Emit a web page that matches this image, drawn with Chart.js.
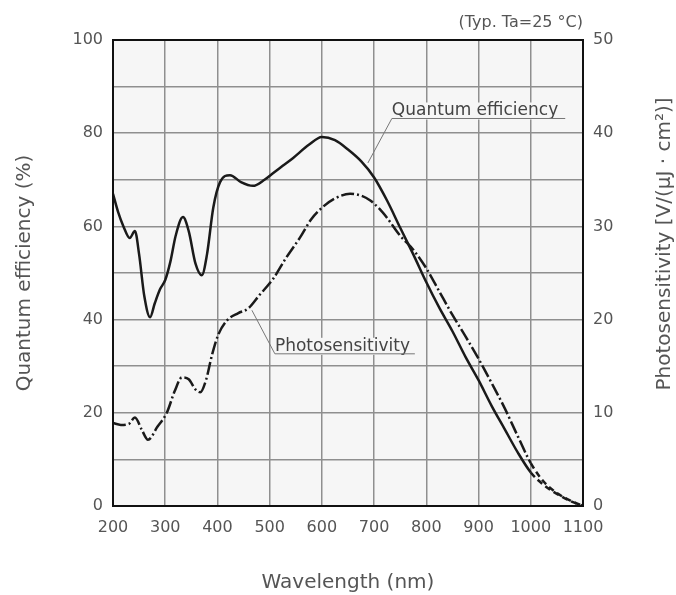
<!DOCTYPE html>
<html>
<head>
<meta charset="utf-8">
<script src="https://cdn.jsdelivr.net/npm/chart.js@4/dist/chart.umd.min.js"></script>
<style>
  body { margin: 0; background: #fff; }
  #chart { display: block; }
</style>
</head>
<body>
<canvas id="chart" width="676" height="595"></canvas>
<script>
// quantum efficiency (%) vs wavelength (nm)
const qeWavelength = [200, 210, 220, 232, 242, 250, 260, 271, 280, 290, 300, 310, 320, 334, 345, 358, 370, 380, 392, 405, 424, 445, 468, 490, 505, 525, 545, 575, 600, 625, 650, 675, 700, 725, 750, 775, 800, 825, 850, 875, 900, 925, 950, 975, 1000, 1025, 1050, 1075, 1100];
const qeValues = [67, 63, 60, 57.5, 59, 54, 45, 40.5, 43.5, 46.5, 48.5, 52.5, 58, 62, 59, 52, 49.5, 54, 64, 69.5, 71, 69.5, 68.7, 70, 71.3, 73, 74.7, 77.5, 79.2, 78.5, 76.5, 74, 70.5, 65.5, 59.7, 54, 48, 42.5, 37.5, 32, 27, 21.5, 16.5, 11.5, 7.2, 4.5, 2.6, 1.1, 0];

// photosensitivity [V/(uJ cm2)] vs wavelength (nm)
const psWavelength = [200, 215, 230, 242, 255, 267, 285, 303, 318, 332, 345, 358, 367, 378, 390, 401, 418, 440, 459, 480, 507, 530, 558, 580, 600, 625, 654, 675, 692, 710, 725, 750, 775, 800, 825, 850, 875, 900, 925, 950, 975, 1000, 1025, 1050, 1075, 1100];
const psValues = [8.9, 8.7, 8.8, 9.5, 8.2, 7.1, 8.5, 10, 12.3, 13.8, 13.6, 12.5, 12.2, 13.5, 16.3, 18.3, 19.9, 20.7, 21.2, 22.6, 24.4, 26.5, 28.8, 30.8, 32, 33, 33.5, 33.3, 32.8, 31.9, 30.9, 29, 27.5, 25.5, 23, 20.5, 18.2, 15.8, 13.2, 10.5, 7.5, 4.6, 2.6, 1.4, 0.6, 0];

const xTicks = [200, 300, 400, 500, 600, 700, 800, 900, 1000, 1100];
const qeTickLabels = [0, 20, 40, 60, 80, 100];
const psTickLabels = [0, 10, 20, 30, 40, 50];

const FONT = 'DejaVu Sans';
const TEXT = '#555';
const PLOT_BG = '#f6f6f6';

// dashed tail after 1000 nm (extrapolated part)
const tailDash = ctx => ctx.p0.parsed.x >= 1000 ? [6, 4] : undefined;

const chartDeco = {
    id: 'chartDeco',
    beforeDraw(chart) {
        const { ctx, chartArea: a } = chart;
        ctx.save();
        ctx.fillStyle = PLOT_BG;
        ctx.fillRect(a.left, a.top, a.right - a.left, a.bottom - a.top);
        ctx.restore();
    },
    afterDatasetsDraw(chart) {
        const { ctx, chartArea: a } = chart;
        const x = chart.scales.x, y = chart.scales.y;
        const px = v => x.getPixelForValue(v), py = v => y.getPixelForValue(v);

        function label(text, nm, pct, underEnd, tipNm, tipPct) {
            ctx.font = '17px ' + FONT;
            const lx = px(nm), ly = py(pct);
            ctx.fillStyle = PLOT_BG;
            ctx.fillRect(lx - 2, ly - 13, px(underEnd) - lx + 4, 17);
            ctx.fillStyle = '#444';
            ctx.textAlign = 'left';
            ctx.textBaseline = 'alphabetic';
            ctx.fillText(text, lx, ly);
            ctx.strokeStyle = '#777';
            ctx.lineWidth = 1;
            ctx.beginPath();
            ctx.moveTo(px(underEnd), ly + 3);
            ctx.lineTo(lx, ly + 3);
            ctx.lineTo(px(tipNm), py(tipPct));
            ctx.stroke();
        }

        ctx.save();
        label('Quantum efficiency', 734, 83.8, 1066, 688, 73.6);
        label('Photosensitivity', 510, 33.3, 778, 466, 42);

        // frame
        ctx.strokeStyle = '#111';
        ctx.lineWidth = 2;
        ctx.strokeRect(a.left, a.top, a.right - a.left, a.bottom - a.top);

        // note top right
        ctx.fillStyle = TEXT;
        ctx.font = '16px ' + FONT;
        ctx.textAlign = 'right';
        ctx.textBaseline = 'middle';
        ctx.fillText('(Typ. Ta=25 °C)', a.right, 23);

        // right axis title, reading bottom to top
        ctx.translate(665, 244);
        ctx.rotate(-Math.PI / 2);
        ctx.textAlign = 'center';
        ctx.font = '20px ' + FONT;
        ctx.fillText('Photosensitivity [V/(μJ · cm²)]', 0, 0);
        ctx.restore();
    }
};

new Chart(document.getElementById('chart'), {
    type: 'line',
    data: {
        datasets: [{
            label: 'Quantum efficiency',
            data: qeWavelength.map((w, i) => ({ x: w, y: qeValues[i] })),
            yAxisID: 'y',
            borderColor: '#1a1a1a',
            borderWidth: 2.5,
            pointRadius: 0,
            cubicInterpolationMode: 'monotone',
            segment: { borderDash: tailDash }
        }, {
            label: 'Photosensitivity',
            data: psWavelength.map((w, i) => ({ x: w, y: psValues[i] })),
            yAxisID: 'y1',
            borderColor: '#1a1a1a',
            borderWidth: 2.5,
            borderDash: [13, 3, 2, 3],
            pointRadius: 0,
            cubicInterpolationMode: 'monotone',
            segment: { borderDash: tailDash }
        }]
    },
    options: {
        responsive: false,
        animation: false,
        devicePixelRatio: 1,
        layout: { padding: { top: 40 } },
        plugins: { legend: { display: false }, tooltip: { enabled: false } },
        scales: {
            x: {
                type: 'linear',
                min: 200, max: 1100,
                afterBuildTicks: s => { s.ticks = xTicks.map(v => ({ value: v })); },
                afterFit: s => { s.height = 89; },
                ticks: {
                    color: TEXT, font: { family: FONT, size: 16 }, padding: 12, maxRotation: 0, autoSkip: false,
                    callback: v => String(v)
                },
                grid: { color: '#8f8f8f', lineWidth: 1.5, drawTicks: false },
                border: { display: false },
                title: { display: true, text: 'Wavelength (nm)', color: TEXT, font: { family: FONT, size: 20 }, padding: { top: 0, bottom: 0 } }
            },
            y: {
                position: 'left',
                min: 0, max: 100,
                ticks: {
                    stepSize: 10, autoSkip: false, padding: 10,
                    color: TEXT, font: { family: FONT, size: 16 },
                    callback: v => qeTickLabels.includes(v) ? String(v) : ''
                },
                afterFit: s => { s.width = 113; },
                grid: { color: '#8f8f8f', lineWidth: 1.5, drawTicks: false },
                border: { display: false },
                title: { display: true, text: 'Quantum efficiency (%)', color: TEXT, font: { family: FONT, size: 20 }, padding: { top: 13, bottom: 0 } }
            },
            y1: {
                position: 'right',
                min: 0, max: 50,
                ticks: {
                    stepSize: 5, autoSkip: false, padding: 10,
                    color: TEXT, font: { family: FONT, size: 16 },
                    callback: v => psTickLabels.includes(v) ? String(v) : ''
                },
                afterFit: s => { s.width = 93; },
                grid: { display: false, drawTicks: false },
                border: { display: false }
            }
        }
    },
    plugins: [chartDeco]
});
</script>
</body>
</html>
